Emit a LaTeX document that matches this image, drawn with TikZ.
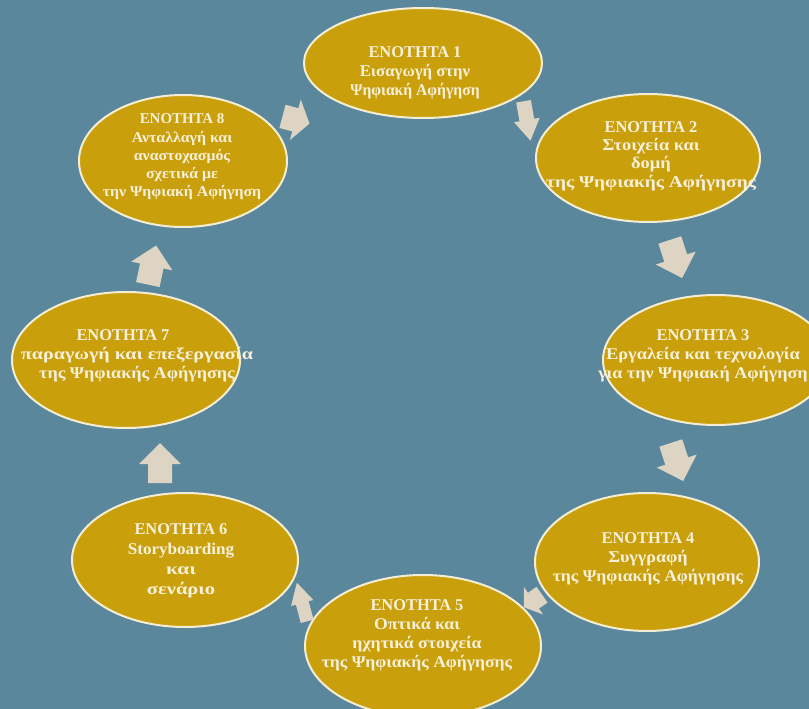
\documentclass[tikz,border=0pt]{standalone}
\usepackage{fontspec}
\setmainfont{Liberation Serif}
\newcommand\wid[2]{{\addfontfeature{FakeStretch=#1}#2}}
\usetikzlibrary{shapes.geometric}
\definecolor{bg}{HTML}{5A879B}
\definecolor{gold}{HTML}{C9A00C}
\definecolor{rim}{HTML}{F3EDD3}
\definecolor{txt}{HTML}{F7F0DA}
\definecolor{arr}{HTML}{DDD4C4}
\begin{document}
\begin{tikzpicture}[x=1bp,y=-1bp,
  unit/.style={ellipse, draw=rim, line width=2bp, fill=gold, inner sep=0pt},
  lbl/.style={text=txt, font=\bfseries\fontsize{16.5}{19}\selectfont, align=center, inner sep=0pt},
  blk/.pic={\fill[arr] (-20,-12) -- (-1,-12) -- (-1,-21) -- (20,0) -- (-1,21) -- (-1,12) -- (-20,12) -- cycle;}
]
\fill[bg] (0,0) rectangle (809,709);
\useasboundingbox (0,0) rectangle (809,709);

\node[unit, minimum width=238bp, minimum height=110bp] (u1) at (423,63) {};
\node[unit, minimum width=224bp, minimum height=128bp] (u2) at (648,158) {};
\node[unit, minimum width=226bp, minimum height=130bp] (u3) at (716,360) {};
\node[unit, minimum width=224bp, minimum height=138bp] (u4) at (647,562) {};
\node[unit, minimum width=236bp, minimum height=142bp] (u5) at (423,646) {};
\node[unit, minimum width=226bp, minimum height=134bp] (u6) at (185,560) {};
\node[unit, minimum width=228bp, minimum height=136bp] (u7) at (126,360) {};
\node[unit, minimum width=208bp, minimum height=132bp] (u8) at (183,161) {};

\node[lbl] (t1) at (415,73) {ΕΝΟΤΗΤΑ 1\\\wid{1.02}{Εισαγωγή στην}\\\wid{0.95}{Ψηφιακή Αφήγηση}};
\node[lbl, font=\bfseries\fontsize{16.5}{18.5}\selectfont] (t2) at (651,156) {ΕΝΟΤΗΤΑ 2\\\wid{1.12}{Στοιχεία και}\\\wid{1.12}{δομή}\\\wid{1.18}{της Ψηφιακής Αφήγησης}};
\node[lbl] (t3) at (703,356) {ΕΝΟΤΗΤΑ 3\\\wid{1.12}{Εργαλεία και τεχνολογία}\\\wid{1.1}{για την Ψηφιακή Αφήγηση}};
\node[lbl] (t4) at (648,559) {ΕΝΟΤΗΤΑ 4\\\wid{1.1}{Συγγραφή}\\\wid{1.07}{της Ψηφιακής Αφήγησης}};
\node[lbl] (t5) at (417,635) {ΕΝΟΤΗΤΑ 5\\\wid{1.08}{Οπτικά και}\\\wid{1.08}{ηχητικά στοιχεία}\\\wid{1.07}{της Ψηφιακής Αφήγησης}};
\node[lbl, font=\bfseries\fontsize{16.5}{20}\selectfont] (t6) at (181,561) {ΕΝΟΤΗΤΑ 6\\\wid{1.04}{Storyboarding}\\\wid{1.3}{και}\\\wid{1.25}{σενάριο}};
\node[lbl] (t7) at (137,356) {ΕΝΟΤΗΤΑ 7\hspace*{28bp}\\\wid{1.22}{παραγωγή και επεξεργασία}\\\wid{1.1}{της Ψηφιακής Αφήγησης}};
\node[lbl, font=\bfseries\fontsize{15}{18.3}\selectfont] (t8) at (182,157) {ΕΝΟΤΗΤΑ 8\\\wid{1.06}{Ανταλλαγή και}\\\wid{1.06}{αναστοχασμός}\\\wid{1.06}{σχετικά με}\\\wid{1.06}{την Ψηφιακή Αφήγηση}};

\pic[rotate=-15, xscale=0.7] (a81) at (296,120) {blk};
\pic[rotate=-80, yscale=0.62] (a12) at (527,121) {blk};
\pic[rotate=-72] (a23) at (676,259) {blk};
\pic[rotate=-72] (a34) at (677,462) {blk};
\pic[rotate=215, xscale=0.55, yscale=0.8] (a45) at (533,601) {blk};
\pic[rotate=105, yscale=0.55] (a56) at (302,602) {blk};
\pic[rotate=90] (a67) at (160,463) {blk};
\pic[rotate=78] (a78) at (152,265) {blk};
\end{tikzpicture}
\end{document}
